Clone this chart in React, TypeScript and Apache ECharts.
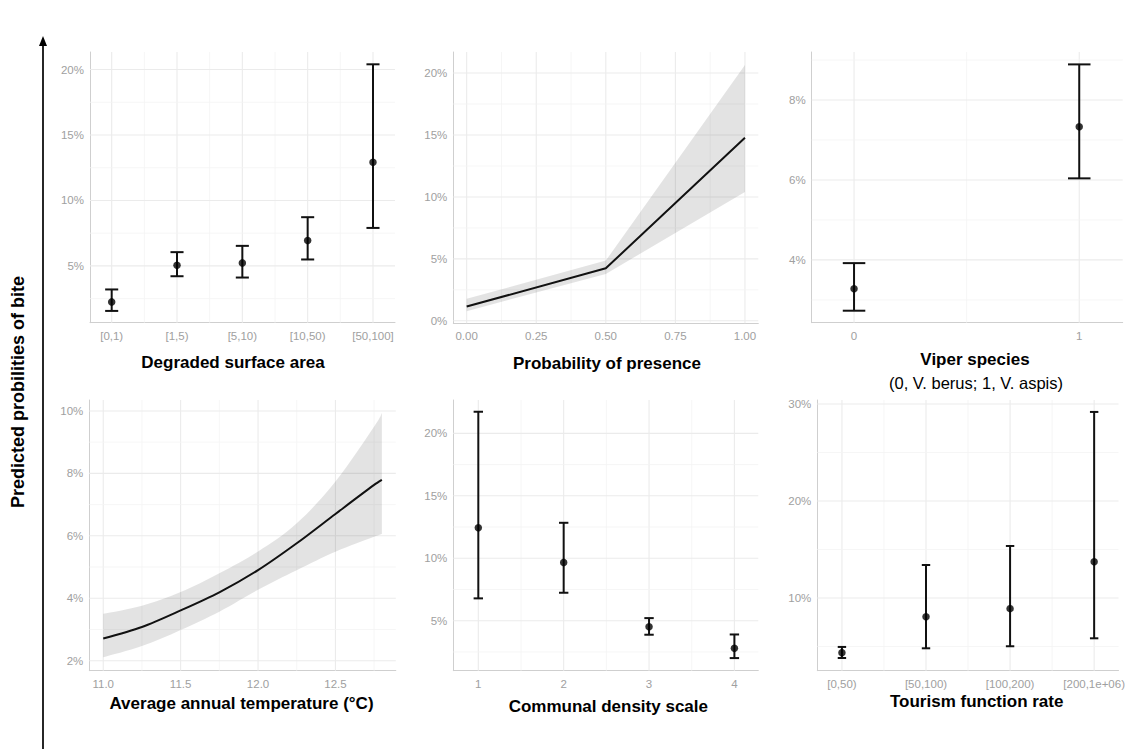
import React, { useEffect, useRef } from 'react';
import * as echarts from 'echarts';

// ---------- DATA (predicted probabilities, %) ----------
const degradedCats = ['[0,1)', '[1,5)', '[5,10)', '[10,50)', '[50,100]'];
const degradedEst = [2.25, 5.05, 5.23, 6.94, 12.92];
const degradedLo = [1.56, 4.21, 4.11, 5.49, 7.9];
const degradedHi = [3.2, 6.05, 6.53, 8.72, 20.4];

const presenceX = [0, 0.5, 1];
const presenceFit = [1.15, 4.24, 14.77];
const presenceLo = [0.78, 3.78, 10.4];
const presenceHi = [1.78, 4.86, 20.66];
const presenceTicks = [0, 0.25, 0.5, 0.75, 1];

const viperCats = ['0', '1'];
const viperEst = [3.28, 7.33];
const viperLo = [2.73, 6.04];
const viperHi = [3.92, 8.89];

const tempX = [11.0, 11.25, 11.5, 11.75, 12.0, 12.25, 12.5, 12.75, 12.8];
const tempFit = [2.71, 3.08, 3.61, 4.19, 4.9, 5.76, 6.7, 7.63, 7.79];
const tempLo = [2.11, 2.47, 2.98, 3.57, 4.27, 4.9, 5.49, 5.97, 6.06];
const tempHi = [3.5, 3.76, 4.2, 4.8, 5.5, 6.4, 7.74, 9.5, 9.93];
const tempTicks = [11.0, 11.5, 12.0, 12.5];

const densityCats = ['1', '2', '3', '4'];
const densityEst = [12.44, 9.67, 4.52, 2.79];
const densityLo = [6.79, 7.24, 3.88, 2.01];
const densityHi = [21.73, 12.84, 5.21, 3.9];

const tourismCats = ['[0,50)', '[50,100)', '[100,200)', '[200,1e+06)'];
const tourismEst = [4.36, 8.07, 8.9, 13.74];
const tourismLo = [3.81, 4.81, 5.02, 5.84];
const tourismHi = [4.95, 13.4, 15.36, 29.18];

const yTicks1 = [5, 10, 15, 20];
const yTicks2 = [0, 5, 10, 15, 20];
const yTicks3 = [4, 6, 8];
const yTicks4 = [2, 4, 6, 8, 10];
const yTicks5 = [5, 10, 15, 20];
const yTicks6 = [10, 20, 30];

const titles = [
  'Degraded surface area',
  'Probability of presence',
  'Viper species',
  'Average annual temperature (°C)',
  'Communal density scale',
  'Tourism function rate',
];
const viperSubtitle = '(0, V. berus; 1, V. aspis)';
const yTitle = 'Predicted probilities of bite';

// ---------- STYLE / LAYOUT ----------
const FONT = "'Liberation Sans', Arial, Helvetica, sans-serif";
const TICK_COLOR = '#a0a0a0';
const AXIS_COLOR = '#cfcfcf';
const GRID_MAJOR = '#ebebeb';
const GRID_MINOR = '#f4f4f4';
const INK = '#111111';
const BAND = 'rgba(0,0,0,0.11)';

type Panel = {
  rect: number[];
  xr: number[];
  yr: number[];
  xMaj: number[];
  xMinor: number[];
  yMaj: number[];
  yMinor: number[];
  xLab: string[];
  title: number[];
};

const pct = (v: number) => `${v}%`;

const panels: Panel[] = [
  {
    rect: [90, 52, 305, 270.7], xr: [0.668, 5.337], yr: [0.66, 21.34],
    xMaj: [1, 2, 3, 4, 5], xMinor: [1.5, 2.5, 3.5, 4.5],
    yMaj: yTicks1, yMinor: [2.5, 7.5, 12.5, 17.5], xLab: degradedCats, title: [233, 362.5],
  },
  {
    rect: [453.3, 52, 305, 271.3], xr: [-0.048, 1.048], yr: [-0.2, 21.7],
    xMaj: presenceTicks, xMinor: [0.125, 0.375, 0.625, 0.875],
    yMaj: yTicks2, yMinor: [2.5, 7.5, 12.5, 17.5],
    xLab: presenceTicks.map((v) => v.toFixed(2)), title: [607, 363],
  },
  {
    rect: [811.7, 52, 311, 270.7], xr: [-0.188, 1.193], yr: [2.43, 9.2],
    xMaj: [0, 1], xMinor: [0.5],
    yMaj: yTicks3, yMinor: [3, 5, 7, 9], xLab: viperCats, title: [975, 359.5],
  },
  {
    rect: [89.3, 400, 306.5, 270.7], xr: [10.91, 12.89], yr: [1.68, 10.35],
    xMaj: tempTicks, xMinor: [11.25, 11.75, 12.25, 12.75],
    yMaj: yTicks4, yMinor: [3, 5, 7, 9],
    xLab: tempTicks.map((v) => v.toFixed(1)), title: [241.5, 703.5],
  },
  {
    rect: [453.3, 400, 305, 270.7], xr: [0.707, 4.28], yr: [1.0, 22.67],
    xMaj: [1, 2, 3, 4], xMinor: [1.5, 2.5, 3.5],
    yMaj: yTicks5, yMinor: [2.5, 7.5, 12.5, 17.5], xLab: densityCats, title: [608.3, 706.5],
  },
  {
    rect: [817.3, 400, 305.4, 270.7], xr: [0.707, 4.29], yr: [2.5, 30.41],
    xMaj: [1, 2, 3, 4], xMinor: [1.5, 2.5, 3.5],
    yMaj: yTicks6, yMinor: [5, 15, 25], xLab: tourismCats, title: [976.7, 701.5],
  },
];

// smooth a pixel polyline (Catmull-Rom), used only for drawing the band edge
function smoothPx(pts: number[][], steps: number): number[][] {
  if (steps <= 1 || pts.length < 3) return pts;
  const out: number[][] = [];
  for (let k = 0; k < pts.length - 1; k++) {
    const p0 = pts[Math.max(0, k - 1)];
    const p1 = pts[k];
    const p2 = pts[k + 1];
    const p3 = pts[Math.min(pts.length - 1, k + 2)];
    for (let s = 0; s < steps; s++) {
      const t = s / steps;
      const t2 = t * t;
      const t3 = t2 * t;
      const f = (a: number, b: number, c: number, d: number) =>
        0.5 * (2 * b + (-a + c) * t + (2 * a - 5 * b + 4 * c - d) * t2 + (-a + 3 * b - 3 * c + d) * t3);
      out.push([f(p0[0], p1[0], p2[0], p3[0]), f(p0[1], p1[1], p2[1], p3[1])]);
    }
  }
  out.push(pts[pts.length - 1]);
  return out;
}

function gridSeries(p: Panel, i: number) {
  const vData = [
    ...p.xMaj.map((v) => [v, p.yr[0], 1]),
    ...p.xMinor.map((v) => [v, p.yr[0], 0]),
  ];
  const hData = [
    ...p.yMaj.map((v) => [p.xr[0], v, 1]),
    ...p.yMinor.map((v) => [p.xr[0], v, 0]),
  ];
  const style = (major: number) => ({
    stroke: major ? GRID_MAJOR : GRID_MINOR,
    lineWidth: major ? 1.1 : 0.8,
  });
  return [
    {
      type: 'custom', xAxisIndex: i, yAxisIndex: i, z: 1, silent: true,
      encode: { x: 0, y: 1 }, data: vData,
      renderItem: (params: any, api: any) => {
        const cs = params.coordSys;
        const pt = api.coord([api.value(0), api.value(1)]);
        return {
          type: 'line',
          shape: { x1: pt[0], y1: cs.y, x2: pt[0], y2: cs.y + cs.height },
          style: style(api.value(2)),
        };
      },
    },
    {
      type: 'custom', xAxisIndex: i, yAxisIndex: i, z: 1, silent: true,
      encode: { x: 0, y: 1 }, data: hData,
      renderItem: (params: any, api: any) => {
        const cs = params.coordSys;
        const pt = api.coord([api.value(0), api.value(1)]);
        return {
          type: 'line',
          shape: { x1: cs.x, y1: pt[1], x2: cs.x + cs.width, y2: pt[1] },
          style: style(api.value(2)),
        };
      },
    },
  ];
}

function errorSeries(i: number, pos: number[], est: number[], lo: number[], hi: number[], capW: number) {
  return [
    {
      type: 'custom', xAxisIndex: i, yAxisIndex: i, z: 3, silent: true,
      encode: { x: 0, y: [1, 2, 3] },
      data: pos.map((x, k) => [x, est[k], lo[k], hi[k]]),
      renderItem: (params: any, api: any) => {
        const x = api.value(0);
        const a = api.coord([x, api.value(2)]);
        const b = api.coord([x, api.value(3)]);
        const half = api.coord([x + capW / 2, api.value(2)])[0] - a[0];
        const st = { stroke: INK, lineWidth: 2 };
        return {
          type: 'group',
          children: [
            { type: 'line', shape: { x1: a[0], y1: a[1], x2: b[0], y2: b[1] }, style: st },
            { type: 'line', shape: { x1: a[0] - half, y1: a[1], x2: a[0] + half, y2: a[1] }, style: st },
            { type: 'line', shape: { x1: b[0] - half, y1: b[1], x2: b[0] + half, y2: b[1] }, style: st },
          ],
        };
      },
    },
    {
      type: 'scatter', xAxisIndex: i, yAxisIndex: i, z: 4, silent: true,
      symbol: 'circle', symbolSize: 7.5,
      itemStyle: { color: '#000' },
      data: pos.map((x, k) => [x, est[k]]),
    },
  ];
}

function bandSeries(i: number, xs: number[], fit: number[], lo: number[], hi: number[], smooth: number, steps: number) {
  return [
    {
      type: 'custom', xAxisIndex: i, yAxisIndex: i, z: 2, silent: true,
      encode: { x: 0, y: [1, 2] },
      data: xs.map((x, k) => [x, lo[k], hi[k]]),
      renderItem: (params: any, api: any) => {
        if (params.dataIndex !== 0) return { type: 'group', children: [] };
        const upper = smoothPx(xs.map((x, k) => api.coord([x, hi[k]])), steps);
        const lower = smoothPx(xs.map((x, k) => api.coord([x, lo[k]])), steps).reverse();
        return {
          type: 'polygon',
          shape: { points: upper.concat(lower) },
          style: { fill: BAND },
        };
      },
    },
    {
      type: 'line', xAxisIndex: i, yAxisIndex: i, z: 3, silent: true,
      showSymbol: false, smooth,
      lineStyle: { color: INK, width: 2 },
      data: xs.map((x, k) => [x, fit[k]]),
    },
  ];
}

function idx(list: any[], offset: number) {
  return list.map((_, k) => k + offset);
}

export default function App() {
  const ref = useRef<HTMLDivElement>(null);
  useEffect(() => {
    if (!ref.current) return;
    const chart = echarts.init(ref.current, undefined, { renderer: 'svg' });

    const grid = panels.map((p) => ({
      left: p.rect[0], top: p.rect[1], width: p.rect[2], height: p.rect[3],
    }));
    const xAxis = panels.map((p, i) => ({
      type: 'value', gridIndex: i, min: p.xr[0], max: p.xr[1],
      splitLine: { show: false },
      axisTick: { show: false },
      axisLine: { show: true, onZero: false, lineStyle: { color: AXIS_COLOR, width: 1 } },
      axisLabel: {
        customValues: p.xMaj,
        color: TICK_COLOR, fontSize: 11.5, fontFamily: FONT, margin: 7,
        formatter: (v: number) => {
          const k = p.xMaj.findIndex((m) => Math.abs(m - v) < 1e-6);
          return k >= 0 ? p.xLab[k] : '';
        },
      },
    }));
    const yAxis = panels.map((p, i) => ({
      type: 'value', gridIndex: i, min: p.yr[0], max: p.yr[1],
      splitLine: { show: false },
      axisTick: { show: false },
      axisLine: { show: true, onZero: false, lineStyle: { color: AXIS_COLOR, width: 1 } },
      axisLabel: {
        customValues: p.yMaj,
        color: TICK_COLOR, fontSize: 11.5, fontFamily: FONT, margin: 6,
        formatter: (v: number) => (p.yMaj.some((m) => Math.abs(m - v) < 1e-6) ? pct(v) : ''),
      },
    }));

    const series: any[] = [];
    panels.forEach((p, i) => series.push(...gridSeries(p, i)));
    series.push(...errorSeries(0, idx(degradedCats, 1), degradedEst, degradedLo, degradedHi, 0.2));
    series.push(...bandSeries(1, presenceX, presenceFit, presenceLo, presenceHi, 0, 1));
    series.push(...errorSeries(2, idx(viperCats, 0), viperEst, viperLo, viperHi, 0.1));
    series.push(...bandSeries(3, tempX, tempFit, tempLo, tempHi, 0.3, 8));
    series.push(...errorSeries(4, idx(densityCats, 1), densityEst, densityLo, densityHi, 0.11));
    series.push(...errorSeries(5, idx(tourismCats, 1), tourismEst, tourismLo, tourismHi, 0.1));

    const graphic: any[] = panels.map((p, i) => ({
      type: 'text', x: p.title[0], y: p.title[1], silent: true,
      style: {
        text: titles[i], fill: '#000', font: `bold 17px ${FONT}`,
        textAlign: 'center', textVerticalAlign: 'middle',
      },
    }));
    graphic.push({
      type: 'text', x: 976, y: 382.7, silent: true,
      style: {
        text: viperSubtitle, fill: '#000', font: `16.5px ${FONT}`,
        textAlign: 'center', textVerticalAlign: 'middle',
      },
    });
    graphic.push({
      type: 'text', x: 18, y: 392, rotation: Math.PI / 2, silent: true,
      style: {
        text: yTitle, fill: '#000', font: `bold 18px ${FONT}`,
        textAlign: 'center', textVerticalAlign: 'middle',
      },
    });
    graphic.push({
      type: 'line', silent: true,
      shape: { x1: 43, y1: 749, x2: 43, y2: 44 },
      style: { stroke: '#000', lineWidth: 1.7 },
    });
    graphic.push({
      type: 'polygon', silent: true,
      shape: { points: [[43, 36], [39, 46], [47, 46]] },
      style: { fill: '#000' },
    });

    chart.setOption({
      animation: false,
      backgroundColor: '#ffffff',
      grid, xAxis, yAxis, series, graphic,
    });
    return () => chart.dispose();
  }, []);

  return (
    <div
      ref={ref}
      style={{ position: 'fixed', left: 0, top: 0, width: 1128, height: 749, background: '#fff' }}
    />
  );
}
